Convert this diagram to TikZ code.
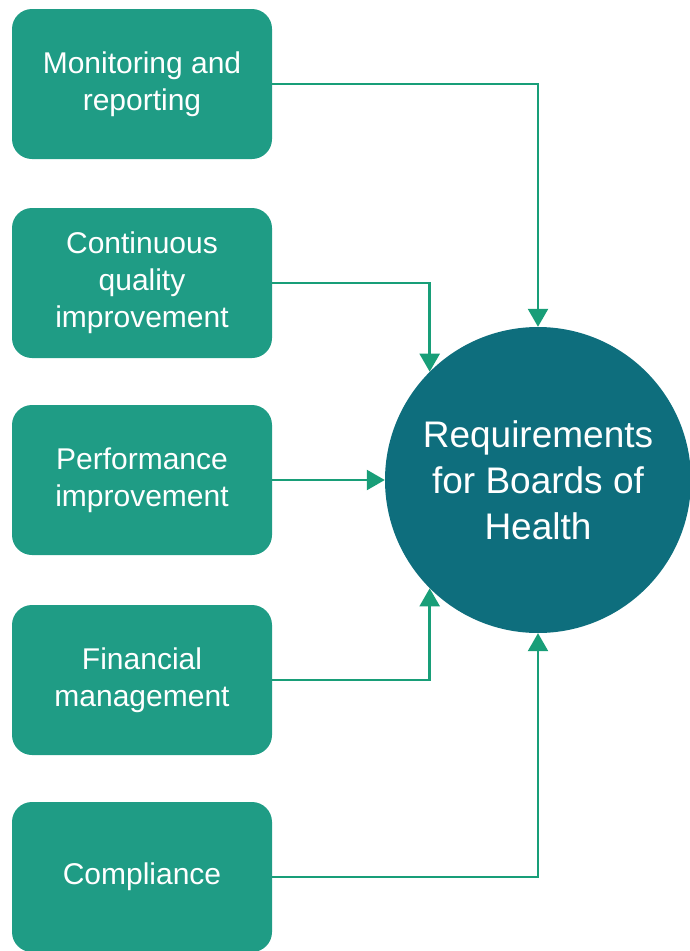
\documentclass[tikz,border=0pt]{standalone}
\usepackage{fontspec}
\setmainfont{Liberation Sans}
\usetikzlibrary{arrows.meta}
\definecolor{boxgreen}{RGB}{31,156,133}
\definecolor{circteal}{RGB}{14,110,125}
\definecolor{linegreen}{RGB}{24,158,120}
\tikzset{
  stepbox/.style={rectangle, rounded corners=20pt, fill=boxgreen, draw=none,
    minimum width=260pt, minimum height=150pt, text=white, align=center,
    font=\fontsize{30}{37}\selectfont, inner sep=0pt},
  goal/.style={circle, fill=circteal, draw=none, minimum size=306pt, inner sep=0pt,
    text=white, align=center, font=\fontsize{37}{46}\selectfont},
  conn/.style={draw=linegreen, line width=2.5pt,
    -{Triangle[width=20pt,length=18pt]}}
}
\begin{document}
\begin{tikzpicture}[x=1pt,y=-1pt]
\useasboundingbox (0,0) rectangle (689,951);
\node[stepbox] (b1) at (142,84) {Monitoring and\\reporting};
\node[stepbox] (b2) at (142,283) {Continuous\\quality\\improvement};
\node[stepbox] (b3) at (142,480) {Performance\\improvement};
\node[stepbox] (b4) at (142,680) {Financial\\management};
\node[stepbox] (b5) at (142,877) {Compliance};
\node[goal] (c) at (538,480) {Requirements\\for Boards of\\Health};
\draw[conn] (b1.east) -| (c.north);
\draw[conn] (b2.east) -| (c.north west);
\draw[conn] (b3.east) -- (c.west);
\draw[conn] (b4.east) -| (c.south west);
\draw[conn] (b5.east) -| (c.south);
\end{tikzpicture}
\end{document}
